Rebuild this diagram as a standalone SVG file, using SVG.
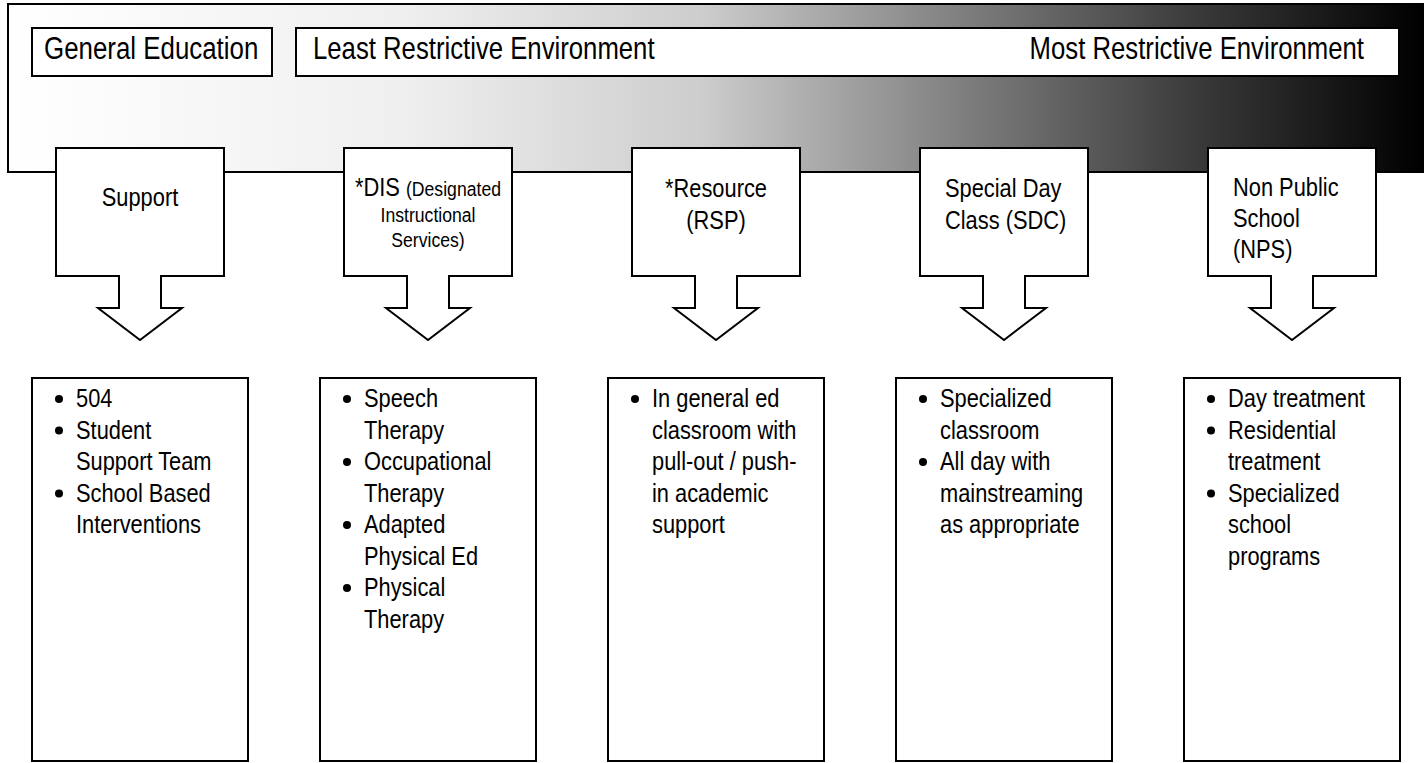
<svg xmlns="http://www.w3.org/2000/svg" width="1426" height="763" viewBox="0 0 1426 763">
<defs>
<linearGradient id="g" x1="8" y1="0" x2="1423" y2="0" gradientUnits="userSpaceOnUse">
<stop offset="0" stop-color="#ffffff"/>
<stop offset="0.28" stop-color="#efefef"/>
<stop offset="0.49" stop-color="#cdcdcd"/>
<stop offset="0.70" stop-color="#747474"/>
<stop offset="0.84" stop-color="#3a3a3a"/>
<stop offset="1" stop-color="#000000"/>
</linearGradient>
</defs>
<style>
text{font-family:"Liberation Sans",Arial,sans-serif;fill:#000}
.hd{font-size:31px}
.co{font-size:26px}
.sm{font-size:21px}
.li{font-size:26px}
.box{fill:#fff;stroke:#000;stroke-width:2}
.call{fill:#fff;stroke:#000;stroke-width:2;stroke-linejoin:miter}
.dot{fill:#000}
.c{text-anchor:middle}
.e{text-anchor:end}
</style>
<rect x="0" y="0" width="1426" height="763" fill="#fff"/>
<g id="frame">
<rect x="8" y="4" width="1415" height="168" fill="url(#g)" stroke="#000" stroke-width="2"/>
</g>
<g id="general-education">
<rect class="box" x="32" y="28" width="240" height="48"/>
<text class="hd" transform="matrix(0.835 0 0 1 44 59)">General Education</text>
</g>
<g id="restrictive-scale">
<rect class="box" x="296" y="28" width="1103" height="48"/>
<text class="hd" transform="matrix(0.83 0 0 1 313 59)">Least Restrictive Environment</text>
<text class="hd e" transform="matrix(0.83 0 0 1 1364 59)">Most Restrictive Environment</text>
</g>
<g id="connectors">
<path class="call" d="M56,148 H224 V276 H161 V308 H182 L140,340 L98,308 H119 V276 H56 Z"/>
<path class="call" d="M344,148 H512 V276 H449 V308 H470 L428,340 L386,308 H407 V276 H344 Z"/>
<path class="call" d="M632,148 H800 V276 H737 V308 H758 L716,340 L674,308 H695 V276 H632 Z"/>
<path class="call" d="M920,148 H1088 V276 H1025 V308 H1046 L1004,340 L962,308 H983 V276 H920 Z"/>
<path class="call" d="M1208,148 H1376 V276 H1313 V308 H1334 L1292,340 L1250,308 H1271 V276 H1208 Z"/>
</g>
<g id="support">
<text class="co c" transform="matrix(0.84 0 0 1 140 206)">Support</text>
</g>
<g id="dis">
<text class="c" transform="matrix(0.84 0 0 1 428 196)"><tspan class="co">*DIS </tspan><tspan class="sm">(Designated</tspan></text>
<text class="sm c" transform="matrix(0.84 0 0 1 428 222)">Instructional</text>
<text class="sm c" transform="matrix(0.84 0 0 1 428 247)">Services)</text>
</g>
<g id="resource">
<text class="co c" transform="matrix(0.84 0 0 1 716 197)">*Resource</text>
<text class="co c" transform="matrix(0.84 0 0 1 716 229)">(RSP)</text>
</g>
<g id="sdc">
<text class="co" transform="matrix(0.84 0 0 1 945 197)">Special Day</text>
<text class="co" transform="matrix(0.84 0 0 1 945 229)">Class (SDC)</text>
</g>
<g id="nps">
<text class="co" transform="matrix(0.84 0 0 1 1233 196)">Non Public</text>
<text class="co" transform="matrix(0.84 0 0 1 1233 227)">School</text>
<text class="co" transform="matrix(0.84 0 0 1 1233 258)">(NPS)</text>
</g>
<g id="support-list">
<rect class="box" x="32" y="378" width="216" height="383"/>
<circle class="dot" cx="59" cy="399" r="4"/>
<circle class="dot" cx="59" cy="430.5" r="4"/>
<circle class="dot" cx="59" cy="493.5" r="4"/>
<text class="li" transform="matrix(0.84 0 0 1 76 407)">504</text>
<text class="li" transform="matrix(0.84 0 0 1 76 438.5)">Student</text>
<text class="li" transform="matrix(0.84 0 0 1 76 470)">Support Team</text>
<text class="li" transform="matrix(0.84 0 0 1 76 501.5)">School Based</text>
<text class="li" transform="matrix(0.84 0 0 1 76 533)">Interventions</text>
</g>
<g id="dis-list">
<rect class="box" x="320" y="378" width="216" height="383"/>
<circle class="dot" cx="347" cy="399" r="4"/>
<circle class="dot" cx="347" cy="462" r="4"/>
<circle class="dot" cx="347" cy="525" r="4"/>
<circle class="dot" cx="347" cy="588" r="4"/>
<text class="li" transform="matrix(0.84 0 0 1 364 407)">Speech</text>
<text class="li" transform="matrix(0.84 0 0 1 364 438.5)">Therapy</text>
<text class="li" transform="matrix(0.84 0 0 1 364 470)">Occupational</text>
<text class="li" transform="matrix(0.84 0 0 1 364 501.5)">Therapy</text>
<text class="li" transform="matrix(0.84 0 0 1 364 533)">Adapted</text>
<text class="li" transform="matrix(0.84 0 0 1 364 564.5)">Physical Ed</text>
<text class="li" transform="matrix(0.84 0 0 1 364 596)">Physical</text>
<text class="li" transform="matrix(0.84 0 0 1 364 627.5)">Therapy</text>
</g>
<g id="resource-list">
<rect class="box" x="608" y="378" width="216" height="383"/>
<circle class="dot" cx="635" cy="399" r="4"/>
<text class="li" transform="matrix(0.84 0 0 1 652 407)">In general ed</text>
<text class="li" transform="matrix(0.84 0 0 1 652 438.5)">classroom with</text>
<text class="li" transform="matrix(0.84 0 0 1 652 470)">pull-out / push-</text>
<text class="li" transform="matrix(0.84 0 0 1 652 501.5)">in academic</text>
<text class="li" transform="matrix(0.84 0 0 1 652 533)">support</text>
</g>
<g id="sdc-list">
<rect class="box" x="896" y="378" width="216" height="383"/>
<circle class="dot" cx="923" cy="399" r="4"/>
<circle class="dot" cx="923" cy="462" r="4"/>
<text class="li" transform="matrix(0.84 0 0 1 940 407)">Specialized</text>
<text class="li" transform="matrix(0.84 0 0 1 940 438.5)">classroom</text>
<text class="li" transform="matrix(0.84 0 0 1 940 470)">All day with</text>
<text class="li" transform="matrix(0.84 0 0 1 940 501.5)">mainstreaming</text>
<text class="li" transform="matrix(0.84 0 0 1 940 533)">as appropriate</text>
</g>
<g id="nps-list">
<rect class="box" x="1184" y="378" width="216" height="383"/>
<circle class="dot" cx="1211" cy="399" r="4"/>
<circle class="dot" cx="1211" cy="430.5" r="4"/>
<circle class="dot" cx="1211" cy="493.5" r="4"/>
<text class="li" transform="matrix(0.84 0 0 1 1228 407)">Day treatment</text>
<text class="li" transform="matrix(0.84 0 0 1 1228 438.5)">Residential</text>
<text class="li" transform="matrix(0.84 0 0 1 1228 470)">treatment</text>
<text class="li" transform="matrix(0.84 0 0 1 1228 501.5)">Specialized</text>
<text class="li" transform="matrix(0.84 0 0 1 1228 533)">school</text>
<text class="li" transform="matrix(0.84 0 0 1 1228 564.5)">programs</text>
</g>
</svg>
